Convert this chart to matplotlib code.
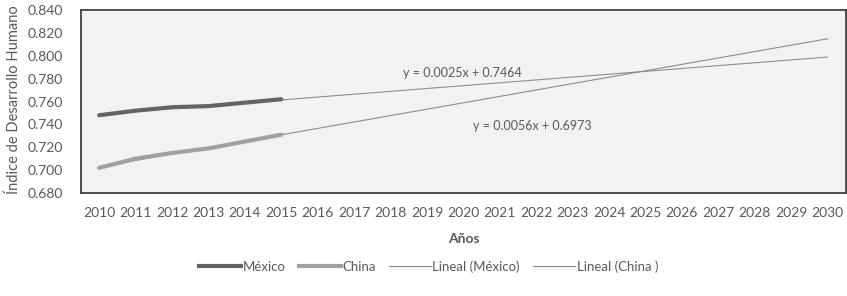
import matplotlib.pyplot as plt
from matplotlib.lines import Line2D
import numpy as np

plt.rcParams['font.family'] = ['Lato', 'DejaVu Sans']

years = list(range(2010, 2031))
years_obs = [2010, 2011, 2012, 2013, 2014, 2015]
mexico = [0.748, 0.752, 0.755, 0.756, 0.759, 0.762]
china = [0.702, 0.710, 0.715, 0.719, 0.725, 0.731]
trend_mex = (0.0025, 0.7464)
trend_chn = (0.0056, 0.6973)
yticks = [0.680, 0.700, 0.720, 0.740, 0.760, 0.780, 0.800, 0.820, 0.840]

txt = '#595959'
c_mex = '#646464'
c_chn = '#a0a0a0'
c_trend = '#8c8c8c'

fig = plt.figure(figsize=(8.47, 2.96), dpi=100)
ax = fig.add_axes([0.0956, 0.348, 0.903, 0.618])
ax.set_facecolor('#f2f2f2')

xi = np.arange(len(years))
xo = np.arange(len(years_obs))
# lineas de tendencia (x de Excel empieza en 1)
ax.plot(xi, trend_mex[0] * (xi + 1) + trend_mex[1], color=c_trend, lw=0.8)
ax.plot(xi, trend_chn[0] * (xi + 1) + trend_chn[1], color=c_trend, lw=0.8)
ax.plot(xo, mexico, color=c_mex, lw=3, solid_capstyle='round')
ax.plot(xo, china, color=c_chn, lw=3, solid_capstyle='round')

ax.text(9.97, 0.785, 'y = 0.0025x + 0.7464', fontsize=9, color=txt, ha='center', va='center')
ax.text(11.9, 0.7386, 'y = 0.0056x + 0.6973', fontsize=9, color=txt, ha='center', va='center')

ax.set_xlim(-0.5, len(years) - 0.5)
ax.set_ylim(0.68, 0.84)
ax.set_xticks(xi)
ax.set_xticklabels([str(y) for y in years])
ax.set_yticks(yticks)
ax.set_yticklabels(['%.3f' % v for v in yticks])
ax.tick_params(length=0, labelsize=10, labelcolor=txt, pad=10)
ax.tick_params(axis='y', pad=13)
for s in ax.spines.values():
    s.set_color('#404040')
    s.set_linewidth(1.3)

ax.set_xlabel('Años', fontsize=10, fontweight='bold', color=txt, labelpad=10)
fig.text(0.016, 0.665, 'Índice de Desarrollo Humano', rotation=90, fontsize=10.5,
         color=txt, ha='center', va='center')

handles = [Line2D([], [], color=c_mex, lw=3),
           Line2D([], [], color=c_chn, lw=3),
           Line2D([], [], color=c_trend, lw=0.8),
           Line2D([], [], color=c_trend, lw=0.8)]
labels = ['México', 'China', 'Lineal (México)', 'Lineal (China )']
leg = fig.legend(handles, labels, loc='center', bbox_to_anchor=(0.506, 0.1), ncol=4,
                 frameon=False, fontsize=9.5, handlelength=3.2, handletextpad=0.1,
                 columnspacing=1.0, labelcolor=txt)

fig.savefig('out.png', dpi=100)
